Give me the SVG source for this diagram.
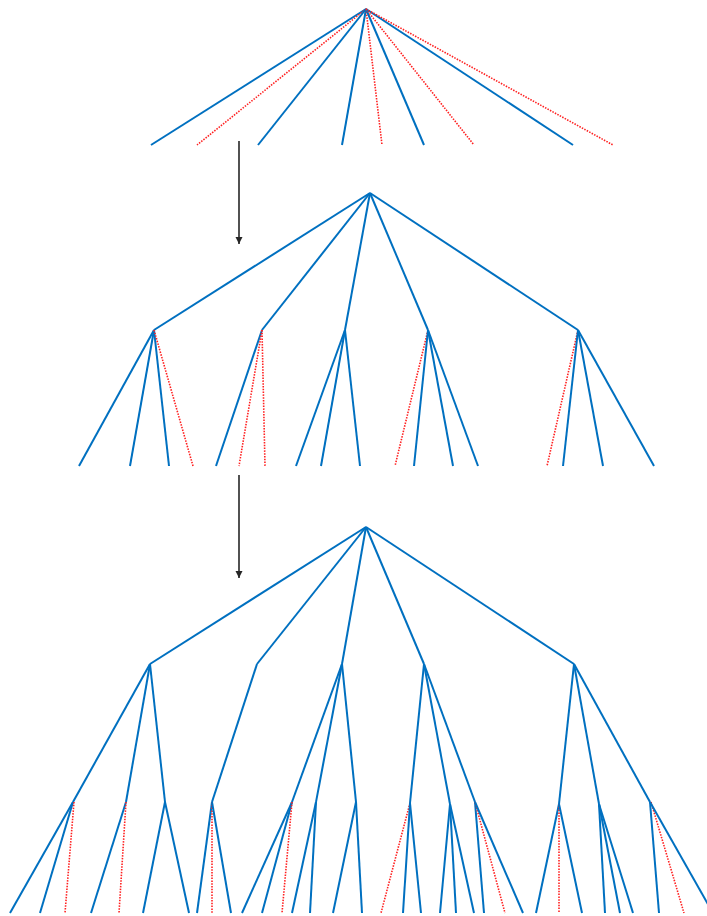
<svg xmlns="http://www.w3.org/2000/svg" width="707" height="916" viewBox="0 0 707 916">
<style>
.b{stroke:#0070C0;stroke-width:2;fill:none;stroke-linecap:butt}
.r{stroke:#FF2020;stroke-width:1.6;fill:none;stroke-dasharray:1.5 1.3}
.a{stroke:#262626;stroke-width:1.6;fill:none}
</style>
<defs>
<marker id="ah" viewBox="0 0 10 10" refX="10" refY="5" markerWidth="4.5" markerHeight="4.5" orient="auto" markerUnits="strokeWidth">
<path d="M0,0 L10,5 L0,10 z" fill="#262626"/>
</marker>
</defs>
<rect width="707" height="916" fill="#fff"/>

<g id="tree-top">
<g id="connectors-top">
<line class="b" x1="366" y1="9" x2="151" y2="145"/>
<line class="r" x1="366" y1="9" x2="197" y2="145"/>
<line class="b" x1="366" y1="9" x2="258" y2="145"/>
<line class="b" x1="366" y1="9" x2="342" y2="145"/>
<line class="r" x1="366" y1="9" x2="382" y2="145"/>
<line class="b" x1="366" y1="9" x2="424" y2="145"/>
<line class="r" x1="366" y1="9" x2="474" y2="145"/>
<line class="b" x1="366" y1="9" x2="573" y2="145"/>
<line class="r" x1="366" y1="9" x2="613" y2="145"/>
</g>
</g>

<g id="arrows">
<line class="a" x1="239" y1="141" x2="239" y2="244" marker-end="url(#ah)"/>
<line class="a" x1="239" y1="475" x2="239" y2="578" marker-end="url(#ah)"/>
</g>

<g id="tree-middle">
<g id="connectors-middle">
<line class="b" x1="370" y1="193" x2="154" y2="330"/>
<line class="b" x1="370" y1="193" x2="262" y2="330"/>
<line class="b" x1="370" y1="193" x2="345" y2="330"/>
<line class="b" x1="370" y1="193" x2="428" y2="330"/>
<line class="b" x1="370" y1="193" x2="578" y2="330"/>
<line class="b" x1="154" y1="330" x2="79" y2="466"/>
<line class="b" x1="154" y1="330" x2="130" y2="466"/>
<line class="b" x1="154" y1="330" x2="169" y2="466"/>
<line class="r" x1="154" y1="330" x2="193" y2="466"/>
<line class="b" x1="262" y1="330" x2="216" y2="466"/>
<line class="r" x1="262" y1="330" x2="239" y2="466"/>
<line class="r" x1="262" y1="330" x2="265" y2="466"/>
<line class="b" x1="345" y1="330" x2="296" y2="466"/>
<line class="b" x1="345" y1="330" x2="321" y2="466"/>
<line class="b" x1="345" y1="330" x2="360" y2="466"/>
<line class="r" x1="428" y1="330" x2="395" y2="466"/>
<line class="b" x1="428" y1="330" x2="414" y2="466"/>
<line class="b" x1="428" y1="330" x2="453" y2="466"/>
<line class="b" x1="428" y1="330" x2="478" y2="466"/>
<line class="r" x1="578" y1="330" x2="547" y2="466"/>
<line class="b" x1="578" y1="330" x2="563" y2="466"/>
<line class="b" x1="578" y1="330" x2="603" y2="466"/>
<line class="b" x1="578" y1="330" x2="654" y2="466"/>
</g>
</g>

<g id="tree-bottom">
<g id="connectors-bottom">
<line class="b" x1="366" y1="527" x2="150" y2="664"/>
<line class="b" x1="366" y1="527" x2="257" y2="664"/>
<line class="b" x1="366" y1="527" x2="342" y2="664"/>
<line class="b" x1="366" y1="527" x2="424" y2="664"/>
<line class="b" x1="366" y1="527" x2="574" y2="664"/>
<line class="b" x1="150" y1="664" x2="73" y2="802"/>
<line class="b" x1="150" y1="664" x2="126" y2="802"/>
<line class="b" x1="150" y1="664" x2="165" y2="802"/>
<line class="b" x1="73" y1="802" x2="10" y2="913"/>
<line class="b" x1="73" y1="802" x2="40" y2="913"/>
<line class="r" x1="74" y1="802" x2="65" y2="913"/>
<line class="b" x1="126" y1="802" x2="91" y2="913"/>
<line class="r" x1="126" y1="802" x2="119" y2="913"/>
<line class="b" x1="165" y1="802" x2="143" y2="913"/>
<line class="b" x1="165" y1="802" x2="189" y2="913"/>
<line class="b" x1="257" y1="664" x2="212" y2="802"/>
<line class="b" x1="212" y1="802" x2="197" y2="913"/>
<line class="r" x1="212" y1="802" x2="212" y2="913"/>
<line class="b" x1="212" y1="802" x2="231" y2="913"/>
<line class="b" x1="342" y1="664" x2="292" y2="802"/>
<line class="b" x1="342" y1="664" x2="316" y2="802"/>
<line class="b" x1="342" y1="664" x2="356" y2="802"/>
<line class="b" x1="292" y1="802" x2="242" y2="913"/>
<line class="b" x1="292" y1="802" x2="262" y2="913"/>
<line class="r" x1="292" y1="802" x2="282" y2="913"/>
<line class="b" x1="316" y1="802" x2="292" y2="913"/>
<line class="b" x1="316" y1="802" x2="310" y2="913"/>
<line class="b" x1="356" y1="802" x2="333" y2="913"/>
<line class="b" x1="356" y1="802" x2="362" y2="913"/>
<line class="b" x1="424" y1="664" x2="410" y2="803"/>
<line class="b" x1="424" y1="664" x2="450" y2="804"/>
<line class="b" x1="424" y1="664" x2="475" y2="802"/>
<line class="r" x1="410" y1="803" x2="381" y2="913"/>
<line class="b" x1="410" y1="803" x2="403" y2="913"/>
<line class="b" x1="410" y1="803" x2="421" y2="913"/>
<line class="b" x1="450" y1="804" x2="440" y2="913"/>
<line class="b" x1="450" y1="804" x2="456" y2="913"/>
<line class="b" x1="450" y1="804" x2="474" y2="913"/>
<line class="b" x1="475" y1="802" x2="484" y2="913"/>
<line class="r" x1="475" y1="802" x2="505" y2="913"/>
<line class="b" x1="475" y1="802" x2="523" y2="913"/>
<line class="b" x1="574" y1="664" x2="559" y2="804"/>
<line class="b" x1="574" y1="664" x2="599" y2="804"/>
<line class="b" x1="574" y1="664" x2="650" y2="802"/>
<line class="b" x1="559" y1="804" x2="536" y2="913"/>
<line class="r" x1="559" y1="804" x2="559" y2="913"/>
<line class="b" x1="559" y1="804" x2="582" y2="913"/>
<line class="b" x1="599" y1="804" x2="605" y2="913"/>
<line class="b" x1="599" y1="804" x2="620" y2="913"/>
<line class="b" x1="599" y1="804" x2="633" y2="913"/>
<line class="b" x1="650" y1="802" x2="659" y2="913"/>
<line class="r" x1="651" y1="802" x2="684" y2="913"/>
<line class="b" x1="650" y1="802" x2="713" y2="913"/>
</g>
</g>
</svg>
